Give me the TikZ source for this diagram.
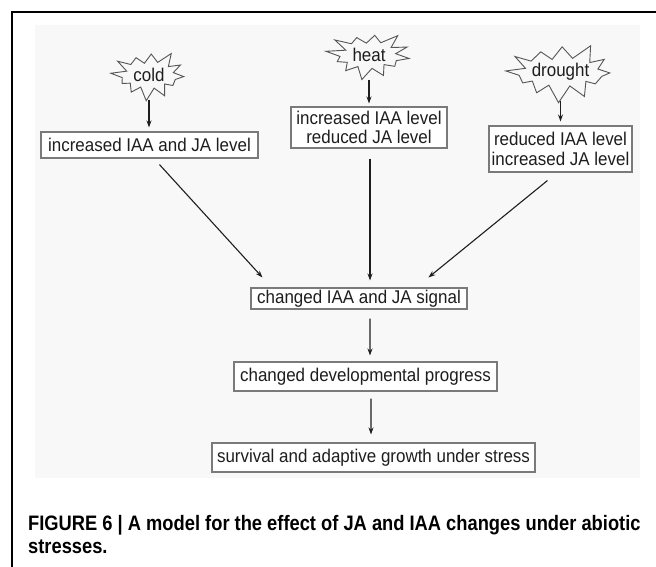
\documentclass[tikz,border=0pt]{standalone}
\usepackage{fontspec}
\setmainfont{Liberation Sans}
\newfontfamily\boxfont[FakeStretch=0.92]{Liberation Sans}
\newfontfamily\capfont[FakeStretch=0.875]{Liberation Sans}
\usetikzlibrary{arrows.meta,calc}
\definecolor{bgc}{HTML}{F8F8F8}
\definecolor{boxgray}{HTML}{7A7A7A}
\definecolor{stargray}{HTML}{555555}
\definecolor{ink}{HTML}{1E1E1E}
% #1 node, #2 #3 outer radii, #4 #5 inner radii, #6 phase
\newcommand\burstaround[6]{%
  \begin{scope}[shift={(#1)}]
    \draw[starline] plot[samples at={0,...,23}, variable=\k]
      ({ (mod(\k,2)==0 ? #2*(0.86+0.14*sin(\k*131+#6)) : #4*(0.95+0.08*sin(\k*77+#6)))*cos(\k*15+#6) },
       { (mod(\k,2)==0 ? #3*(0.86+0.14*sin(\k*131+#6)) : #5*(0.95+0.08*sin(\k*77+#6)))*sin(\k*15+#6) }) -- cycle;
  \end{scope}}
\begin{document}
\begin{tikzpicture}[x=1bp,y=-1bp,
  lbl/.style={font=\boxfont\fontsize{18.5}{19.5}\selectfont, text=ink},
  box/.style={lbl, draw=boxgray, line width=1.1bp, fill=white, inner sep=0pt, align=center},
  stress/.style={lbl, inner sep=0pt},
  starline/.style={draw=stargray, line width=0.9bp, line join=miter},
  arr/.style={draw=ink, line width=1.1bp, -{Stealth[length=7bp,width=5bp]}}]
\useasboundingbox (0,0) rectangle (656,567);
% frame
\fill[white] (0,0) rectangle (656,567);
\draw[line width=2.5bp, black] (12,567) -- (12,12) -- (656,12);
% diagram background
\fill[bgc] (35,25) rectangle (640,478);
% stresses
\node[stress] (cold) at (149,75) {cold};
\node[stress] (heat) at (369,55) {heat};
\node[stress] (drought) at (560.5,72) {drought};
\burstaround{cold}{40}{26}{27}{13.5}{4}
\burstaround{heat}{46}{25}{29}{13.5}{9}
\burstaround{drought}{57}{31}{42}{14.5}{2}
% level boxes
\node[box, minimum width=217bp, minimum height=26bp] (b1) at (149.5,145) {increased IAA and JA level};
\node[box, minimum width=156bp, minimum height=41bp] (b2) at (369,127.5) {increased IAA level\\reduced JA level};
\node[box, minimum width=143bp, minimum height=46bp] (b3) at (560.5,149) {reduced IAA level\\increased JA level};
% downstream boxes
\node[box, minimum width=216bp, minimum height=21bp] (sig) at (359,298.5) {changed IAA and JA signal};
\node[box, minimum width=263bp, minimum height=29bp] (dev) at (365.5,376.5) {changed developmental progress};
\node[box, minimum width=323bp, minimum height=29bp] (surv) at (373.5,457.5) {survival and adaptive growth under stress};
% arrows
\draw[arr] ($(cold.center)+(0,25)$) -- ($(b1.north)+(-0.5,-4)$);
\draw[arr] ($(heat.center)+(0,25)$) -- ($(b2.north)+(0,-3)$);
\draw[arr] ($(drought.center)+(0,29)$) -- ($(b3.north)+(0,-4)$);
\draw[arr] ($(b1.south west)+(119,6)$) -- ($(sig.north west)+(12,-10)$);
\draw[arr] ($(b2.south)+(1,10)$) -- ($(sig.north)+(11,-7)$);
\draw[arr] ($(b3.south west)+(59,8)$) -- ($(sig.north west)+(178,-10)$);
\draw[arr] ($(sig.south)+(11,9)$) -- ($(dev.north)+(4.5,-6)$);
\draw[arr] ($(dev.south)+(5.5,7)$) -- ($(surv.north)+(-2.5,-8)$);
% caption
\node[anchor=base west, inner sep=0pt, font=\capfont\bfseries\fontsize{21}{23}\selectfont] (cap1) at (28,530.5)
  {FIGURE 6 | A model for the effect of JA and IAA changes under abiotic};
\node[anchor=base west, inner sep=0pt, font=\capfont\bfseries\fontsize{21}{23}\selectfont] (cap2) at (28,553.5)
  {stresses.};
\end{tikzpicture}
\end{document}
